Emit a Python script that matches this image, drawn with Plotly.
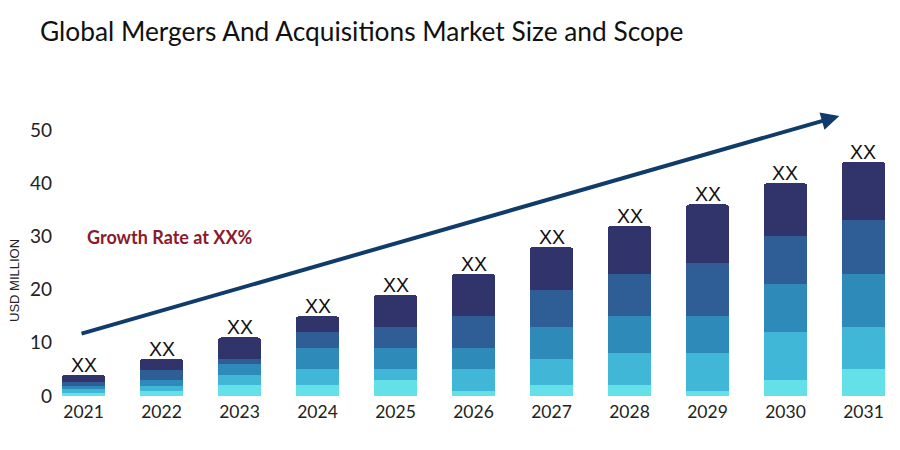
import plotly.graph_objects as go

years = ["2021", "2022", "2023", "2024", "2025", "2026", "2027", "2028", "2029", "2030", "2031"]
seg1 = [0.6, 1.0, 2.0, 2.0, 3.0, 1.0, 2.0, 2.0, 1.0, 3.0, 5.0]
seg2 = [0.7, 0.9, 2.0, 3.0, 2.0, 4.0, 5.0, 6.0, 7.0, 9.0, 8.0]
seg3 = [0.6, 1.1, 2.0, 4.0, 4.0, 4.0, 6.0, 7.0, 7.0, 9.0, 10.0]
seg4 = [0.8, 1.8, 1.0, 3.0, 4.0, 6.0, 7.0, 8.0, 10.0, 9.0, 10.0]
seg5 = [1.3, 2.2, 4.0, 3.0, 6.0, 8.0, 8.0, 9.0, 11.0, 10.0, 11.0]
bar_labels = ["XX"] * len(years)
totals = [a + b + c + d + e for a, b, c, d, e in zip(seg1, seg2, seg3, seg4, seg5)]

colors = ["#64E0E8", "#41B7D7", "#2E8BB9", "#2E5E95", "#30346A"]

fig = go.Figure()
for seg, col in zip([seg1, seg2, seg3, seg4, seg5], colors):
    fig.add_trace(go.Bar(x=years, y=seg, marker=dict(color=col, line=dict(width=0)),
                         showlegend=False, hoverinfo="skip"))

for i, (tot, lab) in enumerate(zip(totals, bar_labels)):
    fig.add_annotation(x=i, y=tot, xref="x", yref="y", text=lab, showarrow=False,
                       xanchor="center", yanchor="bottom", yshift=-3,
                       font=dict(family="Liberation Sans, Arial", size=19.5, color="#111"))

fig.update_layout(
    width=900, height=450,
    barmode="stack", bargap=0.44, barcornerradius=4,
    plot_bgcolor="white", paper_bgcolor="white",
    margin=dict(l=54, r=13, t=90, b=62),
    title=dict(text="Global Mergers And Acquisitions Market Size and Scope",
               x=32 / 900, xref="container", xanchor="left",
               y=1 - 24 / 450, yref="container", yanchor="middle",
               font=dict(family="Lato", size=26.3, color="#111")),
    font=dict(family="Lato", color="#222"),
)

fig.update_xaxes(type="category", range=[-0.276, 10.404], showgrid=False, zeroline=False,
                 showline=False, ticks="", tickfont=dict(family="Lato", size=17.5, color="#222"),
                 ticklabelstandoff=3)
fig.update_yaxes(range=[0, 56], showgrid=False, zeroline=False, showline=False, ticks="",
                 tickvals=[0, 10, 20, 30, 40, 50],
                 tickfont=dict(family="Lato", size=19, color="#222"), ticklabelstandoff=9)

# growth arrow
fig.add_annotation(x=9.69, y=52.6, ax=-0.045, ay=11.65, xref="x", yref="y", axref="x", ayref="y",
                   showarrow=True, arrowhead=2, arrowsize=0.9, arrowwidth=4, arrowcolor="#0F3C6A",
                   text="")

fig.add_annotation(x=0.02, y=29.9, xref="x", yref="y", xanchor="left", yanchor="middle",
                   text="<b>Growth Rate at XX%</b>", showarrow=False,
                   font=dict(family="Lato", size=18, color="#8B1A2C"))

fig.add_annotation(x=(14 - 62) / 833, y=(396 - 281) / 298, xref="paper", yref="paper",
                   text="USD MILLION", showarrow=False, textangle=-90,
                   xanchor="center", yanchor="middle",
                   font=dict(family="Liberation Sans, Arial", size=13, color="#222"))

fig.write_html("out.html")
